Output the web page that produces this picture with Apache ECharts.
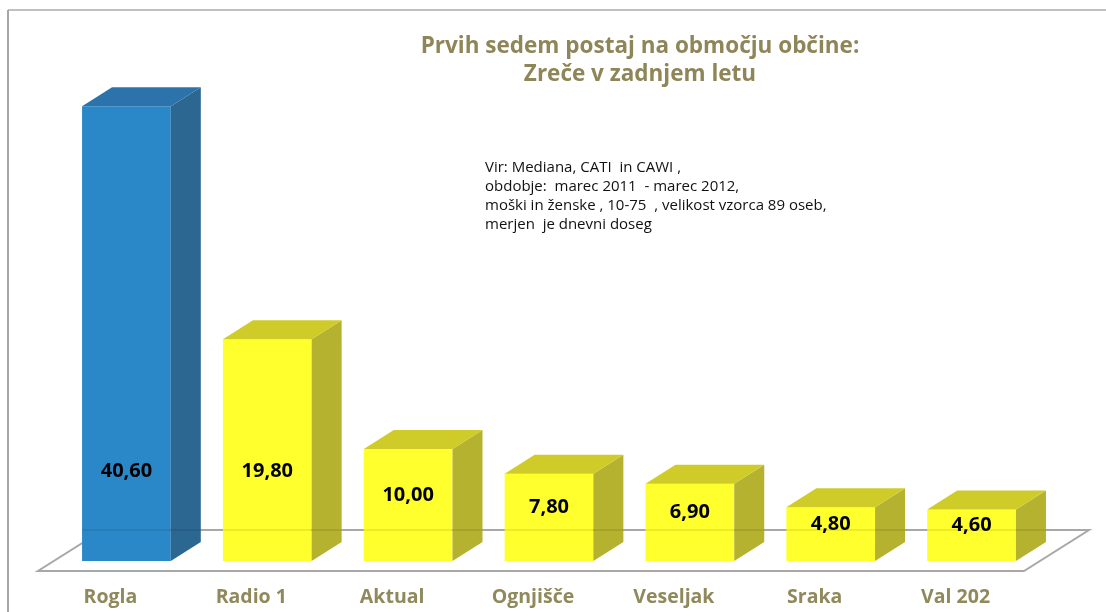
<!DOCTYPE html>
<html>
<head>
<meta charset="utf-8">
<title>Prvih sedem postaj</title>
<script src="https://cdn.jsdelivr.net/npm/echarts@6/dist/echarts.min.js"></script>
<style>
html, body { margin: 0; padding: 0; background: #fff; }
#main { width: 1106px; height: 612px; }
</style>
</head>
<body>
<div id="main"></div>
<script>
var categories = ['Rogla', 'Radio 1', 'Aktual', 'Ognjišče', 'Veseljak', 'Sraka', 'Val 202'];
var values = [40.60, 19.80, 10.00, 7.80, 6.90, 4.80, 4.60];
var noteLines = [
    'Vir: Mediana, CATI  in CAWI ,',
    'obdobje:  marec 2011  - marec 2012,',
    'moški in ženske , 10-75  , velikost vzorca 89 oseb,',
    'merjen  je dnevni doseg'
];

var FONT = '"Open Sans", Lato, sans-serif';
var blue = { front: '#2a88c9', top: '#2b73aa', side: '#2c6792' };
var yellow = { front: '#ffff2e', top: '#cfcc2a', side: '#b4b22e' };
var DX = 30, DY = -19;

function fmt(v) { return v.toFixed(2).replace('.', ','); }

var chart = echarts.init(document.getElementById('main'));

chart.setOption({
    animation: false,
    grid: { left: 56, right: 64, top: 57, bottom: 51 },
    xAxis: {
        type: 'category',
        data: categories,
        axisLine: { show: false },
        axisTick: { show: false },
        splitLine: { show: false },
        axisLabel: {
            margin: 26,
            padding: [0, 32, 0, 0],
            color: '#8f895b',
            fontFamily: FONT,
            fontWeight: 'bold',
            fontSize: 19.5
        }
    },
    yAxis: { type: 'value', min: 0, max: 45, show: false },
    graphic: [
        { type: 'line', shape: { x1: 8, y1: 10, x2: 1106, y2: 10 }, style: { stroke: '#c0c0c0', lineWidth: 2 } },
        { type: 'line', shape: { x1: 8, y1: 10, x2: 8, y2: 612 }, style: { stroke: '#a6a6a6', lineWidth: 2 } },
        {
            type: 'text', x: 640, y: 61,
            style: {
                text: 'Prvih sedem postaj na območju občine:\nZreče v zadnjem letu',
                align: 'center', verticalAlign: 'middle', lineHeight: 28,
                fill: '#8e8658', font: 'bold 22.5px ' + FONT
            }
        },
        {
            type: 'text', x: 485, y: 158,
            style: {
                text: noteLines.join('\n'),
                align: 'left', verticalAlign: 'top', lineHeight: 19,
                fill: '#111', font: '15px ' + FONT
            }
        }
    ],
    series: [
        {
            // floor plane
            type: 'custom',
            z: 1,
            data: [[0]],
            renderItem: function (params, api) {
                var cs = params.coordSys;
                var base = cs.y + cs.height;
                var fl = cs.x - 18, fr = cs.x + cs.width - 18, fy = base + 10;
                var bl = cs.x + 47, br = cs.x + cs.width + 47, by = base - 31;
                return {
                    type: 'polygon',
                    shape: { points: [[fl, fy], [fr, fy], [br, by], [bl, by]] },
                    style: { fill: 'none', stroke: '#a8a8a8', lineWidth: 2 }
                };
            }
        },
        {
            type: 'custom',
            z: 2,
            data: values.map(function (v, i) { return [i, v]; }),
            renderItem: function (params, api) {
                var i = api.value(0), v = api.value(1);
                var top = api.coord([i, v]);
                var base = api.coord([i, 0]);
                var w = api.size([1, 0])[0] * 0.63;
                var l = top[0] - w / 2, r = top[0] + w / 2;
                var c = params.dataIndex === 0 ? blue : yellow;
                var mid = (top[1] + base[1]) / 2 - 10;
                var ly = Math.max(mid, base[1] - 90);
                return {
                    type: 'group',
                    children: [
                        { type: 'rect', shape: { x: l, y: top[1], width: w, height: base[1] - top[1] }, style: { fill: c.front } },
                        { type: 'polygon', shape: { points: [[r, top[1]], [r + DX, top[1] + DY], [r + DX, base[1] + DY], [r, base[1]]] }, style: { fill: c.side } },
                        { type: 'polygon', shape: { points: [[l, top[1]], [l + DX, top[1] + DY], [r + DX, top[1] + DY], [r, top[1]]] }, style: { fill: c.top } },
                        {
                            type: 'text', x: top[0], y: ly,
                            style: { text: fmt(v), align: 'center', verticalAlign: 'middle', fill: '#000', font: 'bold 20px ' + FONT }
                        }
                    ]
                };
            }
        },
        {
            // back edge of floor seen through the bars
            type: 'custom',
            z: 3,
            data: values.map(function (v, i) { return [i, v]; }),
            renderItem: function (params, api) {
                var i = api.value(0);
                var c = api.coord([i, 0]);
                var w = api.size([1, 0])[0] * 0.63;
                var by = c[1] - 31;
                return {
                    type: 'line',
                    shape: { x1: c[0] - w / 2, y1: by, x2: c[0] + w / 2 + DX, y2: by },
                    style: { stroke: 'rgba(0,0,0,0.08)', lineWidth: 2 }
                };
            }
        }
    ]
});
</script>
</body>
</html>
